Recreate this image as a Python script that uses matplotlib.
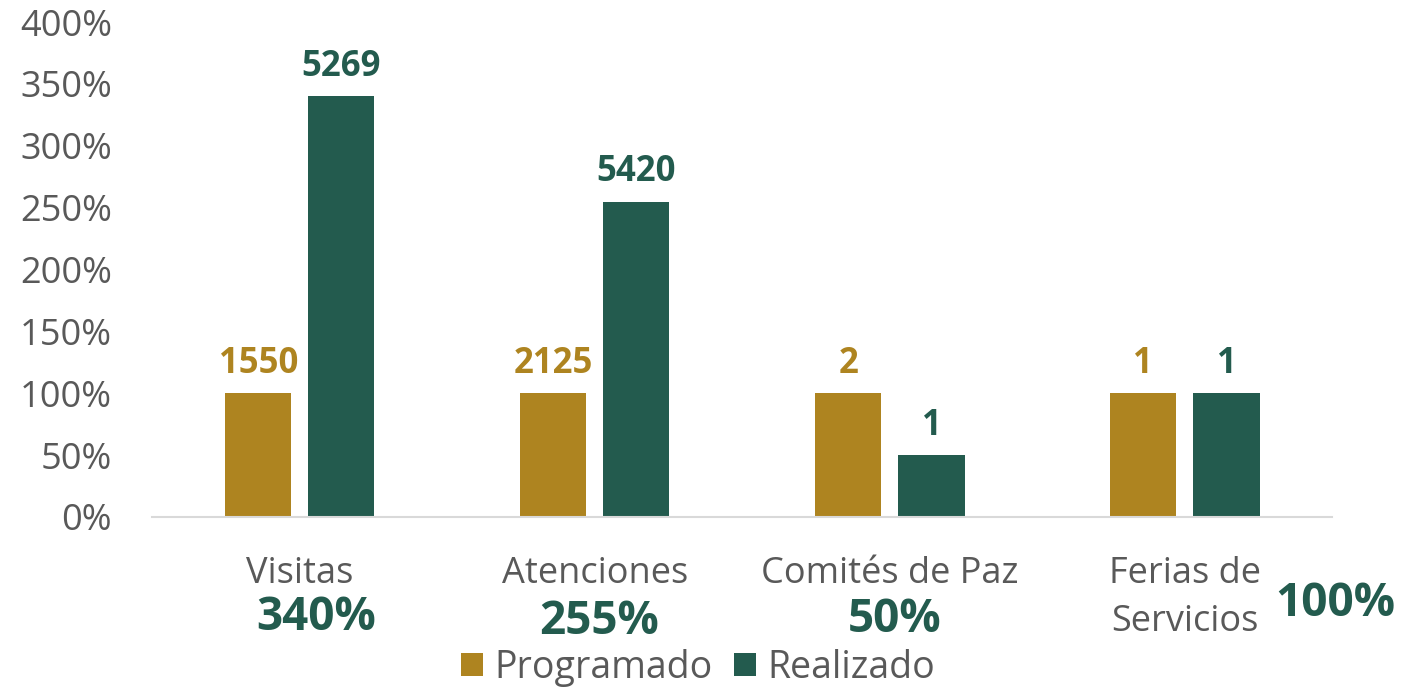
import numpy as np
import matplotlib
matplotlib.use('Agg')
import matplotlib.pyplot as plt

plt.rcParams['font.family'] = ['Open Sans', 'DejaVu Sans']

# datos
categorias = ["Visitas", "Atenciones", "Comités de Paz", "Ferias de\nServicios"]
programado_pct = [100, 100, 100, 100]
realizado_pct = [340, 255, 50, 100]
programado_n = [1550, 2125, 2, 1]
realizado_n = [5269, 5420, 1, 1]
cumplimiento = ["340%", "255%", "50%", "100%"]

oro = '#AE8420'
verde = '#235B4E'
gris = '#595959'

fig = plt.figure(figsize=(14.1, 6.92), dpi=100)
ax = fig.add_axes([0.108, 0.253, 0.837, 0.715])

x = np.arange(len(categorias))
w = 0.224
off = 0.141
b1 = ax.bar(x - off, programado_pct, w, color=oro, label="Programado")
b2 = ax.bar(x + off, realizado_pct, w, color=verde, label="Realizado")

ax.bar_label(b1, labels=[str(v) for v in programado_n], padding=8,
             fontsize=25, fontweight='bold', color=oro)
ax.bar_label(b2, labels=[str(v) for v in realizado_n], padding=8,
             fontsize=25, fontweight='bold', color=verde)

ax.set_xlim(-0.5, 3.5)
ax.set_ylim(0, 400)
ax.set_yticks(range(0, 401, 50))
ax.set_yticklabels([f"{v}%" for v in range(0, 401, 50)])
ax.set_xticks(x)
ax.set_xticklabels(categorias)
ax.tick_params(axis='y', length=0, pad=29, labelsize=26, labelcolor=gris)
ax.tick_params(axis='x', length=0, pad=28, labelsize=26, labelcolor=gris)
for lbl in ax.get_xticklabels():
    lbl.set_linespacing(1.45)

for s in ['top', 'right', 'left']:
    ax.spines[s].set_visible(False)
ax.spines['bottom'].set_color('#D9D9D9')
ax.spines['bottom'].set_linewidth(1.5)

# porcentaje de cumplimiento
dx = [0.056, 0.015, 0.017, 0.51]
dy = [-0.204, -0.212, -0.208, -0.174]
tr = ax.get_xaxis_transform()
for i, t in enumerate(cumplimiento):
    ax.text(x[i] + dx[i], dy[i], t, transform=tr, ha='center', va='center',
            fontsize=33, fontweight='bold', color=verde)

fig.legend(loc='center', bbox_to_anchor=(0.495, 0.035), ncol=2, frameon=False,
           fontsize=27, labelcolor=gris, handlelength=0.6, handleheight=0.6,
           handletextpad=0.3, columnspacing=0.55)

plt.savefig("out.png", dpi=100)
